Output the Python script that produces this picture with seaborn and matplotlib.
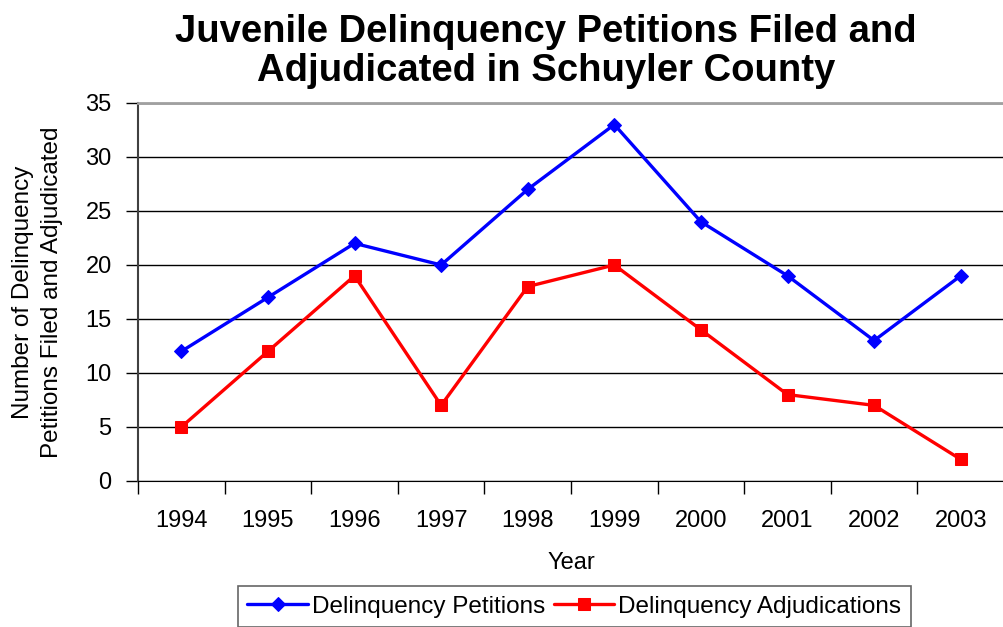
import pandas as pd
import numpy as np
import matplotlib
matplotlib.use('Agg')
import matplotlib.pyplot as plt
import seaborn as sns

# chart data
years = ['1994', '1995', '1996', '1997', '1998', '1999', '2000', '2001', '2002', '2003']
petitions = [12, 17, 22, 20, 27, 33, 24, 19, 13, 19]
adjudications = [5, 12, 19, 7, 18, 20, 14, 8, 7, 2]

df = pd.DataFrame({'pos': np.arange(len(years)), 'year': years,
                   'petitions': petitions, 'adjudications': adjudications})

sns.set_style('white')
plt.rcParams['font.family'] = ['Liberation Sans', 'DejaVu Sans']
plt.rcParams['text.color'] = 'black'
plt.rcParams['axes.labelcolor'] = 'black'
plt.rcParams['xtick.color'] = 'black'
plt.rcParams['ytick.color'] = 'black'

fig = plt.figure(figsize=(10.04, 6.27), dpi=100)
ax = fig.add_axes([0.1375, 0.2329, 0.8625, 0.6029])

sns.lineplot(data=df, x='pos', y='petitions', ax=ax, color='#0000FF', linewidth=2.4,
             marker='D', markersize=7.5, markeredgecolor='#0000FF', label='Delinquency Petitions')
sns.lineplot(data=df, x='pos', y='adjudications', ax=ax, color='#FF0000', linewidth=2.4,
             marker='s', markersize=8, markeredgecolor='#FF0000', label='Delinquency Adjudications')

ax.set_xlim(-0.5, len(years) - 0.5)
ax.set_ylim(0, 35)
ax.set_yticks(range(0, 36, 5))
ax.yaxis.grid(True, color='black', linewidth=1)
ax.set_axisbelow(True)

# category labels centered, tick marks between categories
ax.set_xticks(df['pos'])
ax.set_xticklabels(years)
ax.set_xticks(np.arange(-0.5, len(years), 1), minor=True)
ax.tick_params(axis='x', which='both', bottom=True)
ax.tick_params(axis='x', which='major', length=0, pad=21, labelsize=17)
ax.tick_params(axis='x', which='minor', length=9, width=1, color='black', direction='out')
ax.tick_params(axis='y', left=True, length=9, width=1, color='black', direction='out',
               labelsize=17, pad=10)

for s in ['left', 'bottom', 'top']:
    ax.spines[s].set_visible(True)
ax.spines['right'].set_visible(False)
ax.spines['top'].set_color('#A0A0A0')
ax.spines['top'].set_linewidth(2)
ax.spines['left'].set_color('#404040')
ax.spines['left'].set_linewidth(1.5)
ax.spines['bottom'].set_color('black')

ax.set_xlabel('Year', fontsize=17, labelpad=14)
ax.set_ylabel('Number of Delinquency\nPetitions Filed and Adjudicated', fontsize=17.5,
              labelpad=16, linespacing=1.45)

fig.suptitle('Juvenile Delinquency Petitions Filed and\nAdjudicated in Schuyler County',
             fontsize=27.5, fontweight='bold', x=0.544, y=0.978, linespacing=1.12)

ax.get_legend().remove()
handles, labels = ax.get_legend_handles_labels()
leg = fig.legend(handles, labels, loc='upper center', bbox_to_anchor=(0.572, 1 - 586 / 627),
                 borderaxespad=0, ncol=2, frameon=True, fancybox=False, fontsize=17.5,
                 handlelength=2.5, columnspacing=0.35, handletextpad=0.15, borderpad=0.4,
                 edgecolor='#404040')
leg.get_frame().set_linewidth(1.2)

fig.savefig('out.png', dpi=100)
